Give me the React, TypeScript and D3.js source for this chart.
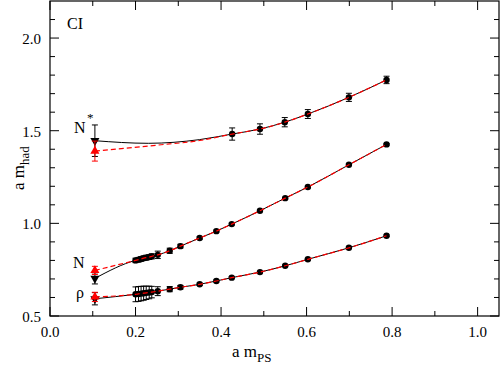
import React from 'react';
import * as d3 from 'd3';

const W = 501;
const H = 367;
const margin = { top: 1, right: 2, bottom: 51, left: 50 };

const xMajor = [0, 0.2, 0.4, 0.6, 0.8, 1.0];
const xMinor = [0.1, 0.3, 0.5, 0.7, 0.9];
const xLabels = ['0.0', '0.2', '0.4', '0.6', '0.8', '1.0'];
const yMajor = [0.5, 1.0, 1.5, 2.0];
const yMinor = [0.6, 0.7, 0.8, 0.9, 1.1, 1.2, 1.3, 1.4, 1.6, 1.7, 1.8, 1.9, 2.1];
const yLabels = ['0.5', '1.0', '1.5', '2.0'];

// lattice points: [a m_PS, a m_had, error]
const nStarData = [
  [0.426, 1.482, 0.033], [0.491, 1.509, 0.028], [0.549, 1.546, 0.025],
  [0.603, 1.59, 0.024], [0.699, 1.68, 0.022], [0.787, 1.774, 0.02],
];
const nucleonData = [
  [0.2, 0.8, 0.012], [0.207, 0.804, 0.012], [0.213, 0.808, 0.012], [0.219, 0.812, 0.012],
  [0.225, 0.815, 0.013], [0.232, 0.818, 0.013], [0.238, 0.822, 0.014], [0.252, 0.83, 0.02],
  [0.28, 0.852, 0.014], [0.305, 0.877, 0.01], [0.35, 0.921, 0.006], [0.389, 0.958, 0.005],
  [0.425, 0.996, 0.005], [0.491, 1.068, 0.004], [0.55, 1.136, 0.004], [0.603, 1.196, 0.004],
  [0.699, 1.316, 0.004], [0.787, 1.426, 0.004],
];
const rhoData = [
  [0.2, 0.617, 0.04], [0.207, 0.619, 0.04], [0.213, 0.621, 0.039], [0.219, 0.623, 0.038],
  [0.225, 0.625, 0.036], [0.232, 0.627, 0.034], [0.238, 0.629, 0.031], [0.252, 0.634, 0.024],
  [0.28, 0.645, 0.014], [0.305, 0.655, 0.01], [0.35, 0.671, 0.006], [0.389, 0.689, 0.005],
  [0.425, 0.707, 0.005], [0.491, 0.737, 0.004], [0.55, 0.771, 0.004], [0.603, 0.806, 0.004],
  [0.699, 0.868, 0.004], [0.787, 0.933, 0.004],
];

// chiral extrapolations: black (solid fit) and red (dashed fit)
const nStarChiral = { black: [0.105, 1.446, 0.085], red: [0.105, 1.39, 0.054] };
const nucleonChiral = { black: [0.105, 0.703, 0.03], red: [0.105, 0.746, 0.022] };
const rhoChiral = { black: [0.105, 0.593, 0.033], red: [0.105, 0.603, 0.025] };

const nStarBendBlack = [[0.23, 1.432], [0.35, 1.452]];
const nStarBendRed = [[0.25, 1.422], [0.35, 1.447]];

const hadrons = [
  { data: nStarData, chiral: nStarChiral, bendBlack: nStarBendBlack, bendRed: nStarBendRed },
  { data: nucleonData, chiral: nucleonChiral, bendBlack: [], bendRed: [] },
  { data: rhoData, chiral: rhoChiral, bendBlack: [], bendRed: [] },
];

const App = () => {
  const x = d3.scaleLinear().domain([0, 1.05]).range([margin.left, W - margin.right]);
  const y = d3.scaleLinear().domain([0.5, 2.2]).range([H - margin.bottom, margin.top]);
  const line = d3.line<number[]>()
    .x(d => x(d[0]))
    .y(d => y(d[1]))
    .curve(d3.curveMonotoneX);

  const x0 = x.range()[0], x1 = x.range()[1];
  const y0 = y.range()[0], y1 = y.range()[1];
  const font = "'Liberation Serif', 'Times New Roman', Times, 'DejaVu Serif', serif";
  const triUp = d3.symbol(d3.symbolTriangle, 36)();

  const errBar = (d: number[], color: string, key: string) => {
    const cx = x(d[0]);
    const ya = y(d[1] + d[2]);
    const yb = y(d[1] - d[2]);
    return (
      <g key={key} stroke={color} strokeWidth={1}>
        <line x1={cx} x2={cx} y1={ya} y2={yb} />
        <line x1={cx - 3} x2={cx + 3} y1={ya} y2={ya} />
        <line x1={cx - 3} x2={cx + 3} y1={yb} y2={yb} />
      </g>
    );
  };

  return (
    <svg width={W} height={H} style={{ position: 'absolute', left: 0, top: 0, background: '#fff' }}>
      {/* fit curves, black solid */}
      {hadrons.map((h, i) => (
        <path key={'b' + i} d={line([h.chiral.black, ...h.bendBlack, ...h.data]) || ''}
          fill="none" stroke="#000" strokeWidth={1} />
      ))}
      {/* error bars and markers */}
      {hadrons.map((h, i) => (
        <g key={'p' + i}>
          {h.data.map((d, j) => errBar(d, '#000', 'e' + j))}
          {h.data.map((d, j) => (
            <circle key={j} cx={x(d[0])} cy={y(d[1])} r={3.2} fill="#000" />
          ))}
          {errBar(h.chiral.black, '#000', 'cb')}
          <path d={triUp || ''} fill="#000"
            transform={`translate(${x(h.chiral.black[0])},${y(h.chiral.black[1])}) rotate(180)`} />
        </g>
      ))}
      {/* red dashed fits */}
      {hadrons.map((h, i) => (
        <path key={'r' + i} d={line([h.chiral.red, ...h.bendRed, ...h.data]) || ''}
          fill="none" stroke="#ff0000" strokeWidth={1.2} strokeDasharray="5,3" />
      ))}
      {hadrons.map((h, i) => (
        <g key={'rc' + i}>
          {errBar(h.chiral.red, '#ff0000', 'cr')}
          <path d={triUp || ''} fill="#ff0000"
            transform={`translate(${x(h.chiral.red[0])},${y(h.chiral.red[1])})`} />
        </g>
      ))}

      {/* frame and ticks */}
      <rect x={x0} y={y1} width={x1 - x0} height={y0 - y1} fill="none" stroke="#000" strokeWidth={1.2} />
      <g stroke="#000" strokeWidth={1}>
        {xMajor.map(v => (
          <g key={'xM' + v}>
            <line x1={x(v)} x2={x(v)} y1={y0} y2={y0 - 9} />
            <line x1={x(v)} x2={x(v)} y1={y1} y2={y1 + 9} />
          </g>
        ))}
        {xMinor.map(v => (
          <g key={'xm' + v}>
            <line x1={x(v)} x2={x(v)} y1={y0} y2={y0 - 5} />
            <line x1={x(v)} x2={x(v)} y1={y1} y2={y1 + 5} />
          </g>
        ))}
        {yMajor.map(v => (
          <g key={'yM' + v}>
            <line x1={x0} x2={x0 + 9} y1={y(v)} y2={y(v)} />
            <line x1={x1} x2={x1 - 9} y1={y(v)} y2={y(v)} />
          </g>
        ))}
        {yMinor.map(v => (
          <g key={'ym' + v}>
            <line x1={x0} x2={x0 + 5} y1={y(v)} y2={y(v)} />
            <line x1={x1} x2={x1 - 5} y1={y(v)} y2={y(v)} />
          </g>
        ))}
      </g>
      <g fontSize={15} fill="#000" fontFamily={font}>
        {xMajor.map((v, i) => (
          <text key={'xl' + v} x={x(v)} y={y0 + 21} textAnchor="middle">{xLabels[i]}</text>
        ))}
        {yMajor.map((v, i) => (
          <text key={'yl' + v} x={x0 - 9} y={y(v) + 6} textAnchor="end">{yLabels[i]}</text>
        ))}

        {/* axis titles */}
        <text x={232} y={357} fontSize={17}>
          a m<tspan fontSize={13} dy={5}>PS</tspan>
        </text>
        <text transform="translate(24,190) rotate(-90)" fontSize={17}>
          a m<tspan fontSize={13} dy={5}>had</tspan>
        </text>

        {/* labels */}
        <text x={67} y={29} fontSize={16}>CI</text>
        <text x={74} y={133} fontSize={16}>N</text>
        <text x={87} y={122} fontSize={13}>*</text>
        <text x={73} y={268} fontSize={16}>N</text>
        <text x={76} y={298} fontSize={16}>ρ</text>
      </g>
    </svg>
  );
};

export default App;
